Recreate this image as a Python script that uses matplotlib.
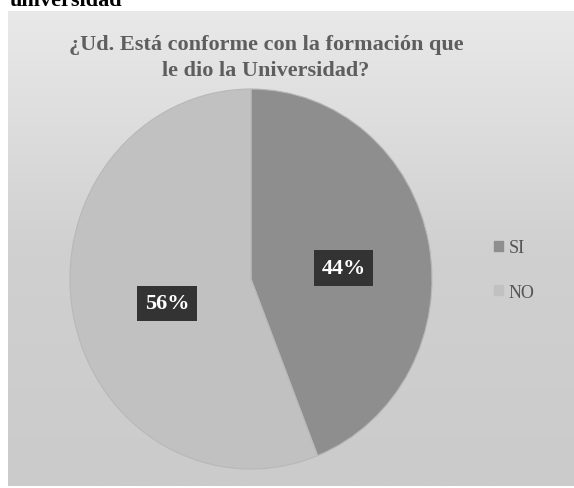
import matplotlib.pyplot as plt
import numpy as np

labels = ["SI", "NO"]
values = [44, 56]
colors = ["#8e8e8e", "#c1c1c1"]
title = "¿Ud. Está conforme con la formación que\nle dio la Universidad?"

W, H = 574, 489
fig = plt.figure(figsize=(W / 100, H / 100), dpi=100)
fig.patch.set_facecolor("white")

# gray chart box with soft vertical gradient
bg = fig.add_axes([8 / W, 2 / H, 1 - 8 / W, 1 - 14 / H])
grad = np.linspace(0, 1, 256).reshape(-1, 1)
bg.imshow(grad, aspect="auto", cmap=plt.matplotlib.colors.LinearSegmentedColormap.from_list(
    "g", ["#e9e9e9", "#d0d0d0", "#cbcbcb"]), extent=[0, 1, 0, 1], origin="upper")
bg.set_axis_off()

# cut-off heading above the box
fig.text(10 / W, 1 - 6 / H, "universidad", fontsize=16, fontweight="bold",
         family="Liberation Serif", color="black", va="baseline")

fig.text(266 / W, 1 - 58 / H, title, fontsize=16, fontweight="bold",
         family="Liberation Serif", color="#5e5e5e", ha="center", va="center",
         linespacing=1.4)

# pie is slightly stretched vertically in the reference
cx, cy, rx, ry = 251, 280, 181, 190
ax = fig.add_axes([(cx - rx) / W, 1 - (cy + ry) / H, 2 * rx / W, 2 * ry / H])
wedges, _ = ax.pie(values, colors=colors, startangle=90, counterclock=False,
                   radius=1.0, wedgeprops=dict(edgecolor="#b8b8b8", linewidth=0.8))
ax.set_xlim(-1, 1)
ax.set_ylim(-1, 1)
ax.set_aspect("auto")

for w, v, f in zip(wedges, values, [0.52, 0.47]):
    ang = np.deg2rad((w.theta1 + w.theta2) / 2)
    x, y = f * np.cos(ang), f * np.sin(ang) - 0.04
    ax.text(x, y, f"{v}%", fontsize=16, fontweight="bold", family="Liberation Serif",
            color="white", ha="center", va="center",
            bbox=dict(boxstyle="square,pad=0.35", facecolor="#333333", edgecolor="none"))

handles = [plt.Rectangle((0, 0), 1, 1, color=c) for c in colors]
fig.legend(handles, labels, loc="center left", bbox_to_anchor=(478 / W, 1 - 271 / H),
           frameon=False, prop={"family": "Liberation Serif", "size": 13},
           handlelength=0.5, handleheight=0.5, handletextpad=0.3, labelspacing=1.5,
           labelcolor="#555555")

fig.savefig("out.png", dpi=100)
